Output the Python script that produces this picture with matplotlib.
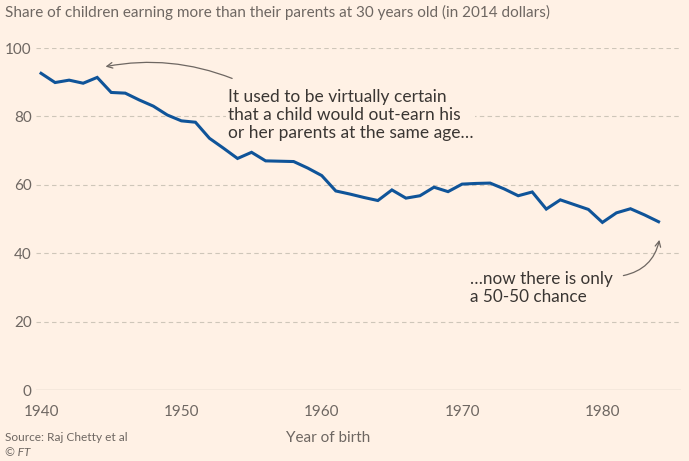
import matplotlib
matplotlib.use("Agg")
import matplotlib.pyplot as plt

# Share of children earning more than their parents (%), by birth year
years = list(range(1940, 1985))
share = [92.6, 89.9, 90.6, 89.7, 91.4, 87.0, 86.8, 84.8, 83.0, 80.4,
         78.7, 78.3, 73.6, 70.7, 67.7, 69.5, 67.0, 66.9, 66.8, 64.9,
         62.7, 58.2, 57.3, 56.3, 55.4, 58.5, 56.1, 56.8, 59.3, 58.0,
         60.2, 60.4, 60.5, 58.8, 56.8, 57.9, 52.9, 55.6, 54.2, 52.8,
         49.0, 51.8, 53.0, 51.2, 49.2]

x_ticks = [1940, 1950, 1960, 1970, 1980]
y_ticks = [0, 20, 40, 60, 80, 100]

title = "Share of children earning more than their parents at 30 years old (in 2014 dollars)"
note_then = "It used to be virtually certain\nthat a child would out-earn his\nor her parents at the same age\u2026"
note_now = "\u2026now there is only\na 50-50 chance"

BG = "#FFF1E5"
LINE = "#0F5499"
GREY = "#6E6762"
DARK = "#3A3633"
GRID = "#CEC6B9"

plt.rcParams['font.family'] = ['Lato', 'DejaVu Sans']

fig = plt.figure(figsize=(6.89, 4.61), dpi=100, facecolor=BG)
ax = fig.add_axes([36 / 689, 1 - 390 / 461, (681 - 36) / 689, (390 - 48) / 461])
ax.set_facecolor(BG)

ax.plot(years, share, color=LINE, lw=2.2, solid_joinstyle='miter', zorder=3)

ax.set_xlim(1939.64, 1985.6)
ax.set_ylim(0, 100)
ax.set_xticks(x_ticks)
ax.set_yticks(y_ticks)
for s in ax.spines.values():
    s.set_visible(False)
ax.tick_params(length=0, labelsize=11, labelcolor=GREY)
ax.tick_params(axis='x', pad=11)
ax.tick_params(axis='y', pad=3)

for v in y_ticks:
    if v == 0:
        ax.axhline(v, color=GRID, lw=1, zorder=1)
    else:
        ax.axhline(v, color=GRID, lw=0.8, ls=(0, (4, 3)), zorder=1)

# annotations
ax.text(1953.3, 80.4, note_then, fontsize=12.5, color=DARK, va='center', ha='left',
        linespacing=1.18, zorder=4,
        bbox=dict(facecolor=BG, edgecolor='none', pad=1))
ax.annotate("", xy=(1944.4, 94.4), xytext=(1953.8, 90.8),
            arrowprops=dict(arrowstyle='->', color=GREY, lw=0.9,
                            connectionstyle='arc3,rad=0.15'))

ax.text(1970.6, 29.8, note_now, fontsize=12.3, color=DARK, va='center', ha='left',
        linespacing=1.18, zorder=4,
        bbox=dict(facecolor=BG, edgecolor='none', pad=1))
ax.annotate("", xy=(1984.1, 44.7), xytext=(1981.3, 33.3),
            arrowprops=dict(arrowstyle='->', color=GREY, lw=0.9,
                            connectionstyle='arc3,rad=0.35'))

fig.text(5 / 689, 1 - 12 / 461, title, fontsize=11, color=GREY, va='center', ha='left')
fig.text(328 / 689, 1 - 438 / 461, "Year of birth", fontsize=11, color=GREY,
         va='center', ha='center')
fig.text(5 / 689, 1 - 437 / 461, "Source: Raj Chetty et al", fontsize=8.6, color=GREY,
         va='center', ha='left')
fig.text(5 / 689, 1 - 452 / 461, "\u00a9 FT", fontsize=8.6, color=GREY, style='italic',
         va='center', ha='left')

fig.savefig("out.png", dpi=100, facecolor=BG)
